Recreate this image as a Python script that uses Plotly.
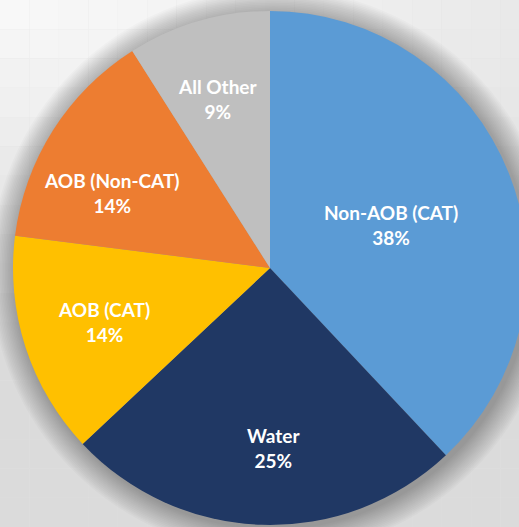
import math
import plotly.graph_objects as go

# ---- data ----
categories = ["Non-AOB (CAT)", "Water", "AOB (CAT)", "AOB (Non-CAT)", "All Other"]
values = [38, 25, 14, 14, 9]
slice_colors = ["#5B9BD5", "#203864", "#FFC000", "#ED7D31", "#BFBFBF"]
# label placement style (radius fraction, angle nudge in degrees)
label_radius_frac = [0.50, 0.70, 0.68, 0.68, 0.69]
label_angle_nudge = [2.0, -3.0, 0.0, -7.0, -1.0]

W, H = 530, 527
ML, MR, MT, MB = 13, 3, 11, 2

fig = go.Figure()
fig.add_trace(go.Pie(
    labels=categories,
    values=values,
    sort=False,
    direction="clockwise",
    rotation=0,
    marker=dict(colors=slice_colors, line=dict(width=0)),
    textinfo="none",
    hoverinfo="label+percent",
    showlegend=False,
))

# pie geometry (as plotly lays it out)
gw, gh = W - ML - MR, H - MT - MB
cx = ML + gw / 2
cy = MT + gh / 2
R = min(gw, gh) / 2

def to_paper(px, py):
    return (px - ML) / gw, 1 - (py - MT) / gh

# background: soft light from the top-left
shapes = []
nx, ny = 18, 18
for i in range(nx):
    for j in range(ny):
        px = (i + 0.5) * W / nx
        py = (j + 0.5) * H / ny
        d = math.sqrt((px / 980) ** 2 + (py / 330) ** 2)
        c = int(round(219 + 30 * max(0.0, 1 - d)))
        x0, y1 = to_paper(i * W / nx, j * H / ny)
        x1, y0 = to_paper((i + 1) * W / nx, (j + 1) * H / ny)
        shapes.append(dict(type="rect", xref="paper", yref="paper",
                           x0=x0, x1=x1, y0=y0, y1=y1,
                           fillcolor=f"rgb({c},{c},{c})", line=dict(width=0), layer="below"))
# soft shadow around the pie
for k in range(16, 0, -1):
    rr = R + k * 1.6
    x0, y1 = to_paper(cx - rr + 3, cy - rr + 3)
    x1, y0 = to_paper(cx + rr + 3, cy + rr + 3)
    shapes.append(dict(type="circle", xref="paper", yref="paper",
                       x0=x0, x1=x1, y0=y0, y1=y1,
                       fillcolor="rgba(0,0,0,0.018)", line=dict(width=0), layer="below"))

# labels placed at each slice's mid-angle
total = sum(values)
annotations = []
cum = 0
for cat, v, frac, nudge in zip(categories, values, label_radius_frac, label_angle_nudge):
    mid = (cum + v / 2) / total * 2 * math.pi + math.radians(nudge)
    cum += v
    px = cx + frac * R * math.sin(mid)
    py = cy - frac * R * math.cos(mid)
    x, y = to_paper(px, py)
    annotations.append(dict(
        x=x, y=y, xref="paper", yref="paper",
        text=f"{cat}<br>{round(v / total * 100)}%",
        showarrow=False, xanchor="center", yanchor="middle",
        font=dict(family="Lato, 'Open Sans', sans-serif", size=19, color="white", weight="bold"),
    ))

fig.update_layout(
    width=W, height=H,
    margin=dict(l=ML, r=MR, t=MT, b=MB),
    paper_bgcolor="#e2e2e2",
    plot_bgcolor="#e2e2e2",
    shapes=shapes,
    annotations=annotations,
)

fig.write_html(
    "out.html",
    config={"displayModeBar": False},
    post_script="document.body.style.margin='0';document.body.style.overflow='hidden';",
)
